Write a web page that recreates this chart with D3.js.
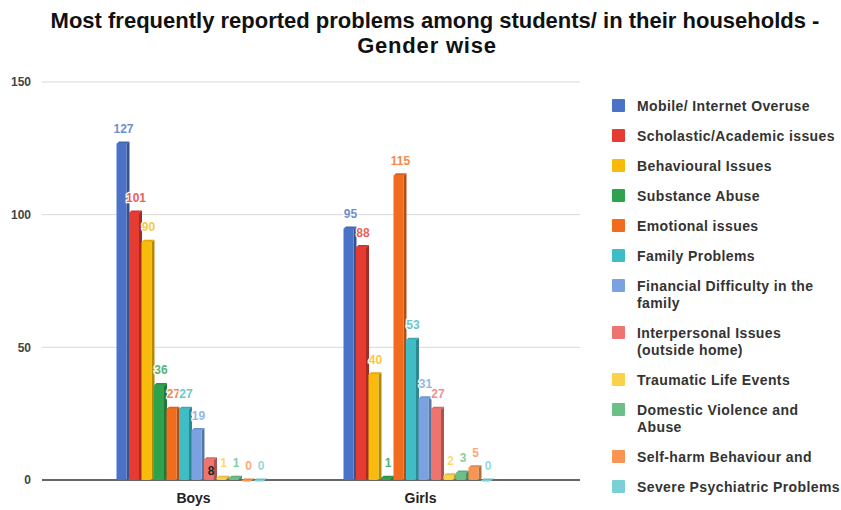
<!DOCTYPE html>
<html>
<head>
<meta charset="utf-8">
<script src="https://cdn.jsdelivr.net/npm/d3@7/dist/d3.min.js"></script>
<style>
  html, body { margin: 0; padding: 0; background: #fff; }
  svg { display: block; font-family: "Liberation Sans", Arial, sans-serif; }
</style>
</head>
<body>
<svg id="chart" width="841" height="510"></svg>
<script>
// Gender groups on the x axis
const groups = ["Boys", "Girls"];

// Problem categories (legend order); "\n" marks a legend line break
const seriesNames = [
  "Mobile/ Internet Overuse",
  "Scholastic/Academic issues",
  "Behavioural Issues",
  "Substance Abuse",
  "Emotional issues",
  "Family Problems",
  "Financial Difficulty in the\nfamily",
  "Interpersonal Issues\n(outside home)",
  "Traumatic Life Events",
  "Domestic Violence and\nAbuse",
  "Self-harm Behaviour and",
  "Severe Psychiatric Problems"
];

// Counts per category
const boysValues  = [127, 101, 90, 36, 27, 27, 19, 8, 1, 1, 0, 0];
const girlsValues = [95, 88, 40, 1, 115, 53, 31, 27, 2, 3, 5, 0];

// Axis ticks
const yTicks = [0, 50, 100, 150];

const seriesColors = [
  "#4a72c6", "#e53b30", "#f8bb0c", "#2ea24d", "#f26c1e", "#3fbcc4",
  "#7aa2e0", "#ee7470", "#fbd04a", "#6cbf86", "#f99552", "#7bd0d6"
];

const title1 = "Most frequently reported problems among students/ in their households -";
const title2 = "Gender wise";

const svg = d3.select("#chart");

// Title
svg.append("text").attr("x", 435).attr("y", 28)
  .attr("text-anchor", "middle").attr("font-size", 22).attr("font-weight", "bold")
  .attr("fill", "#111").text(title1);
svg.append("text").attr("x", 427).attr("y", 53)
  .attr("text-anchor", "middle").attr("font-size", 22).attr("font-weight", "bold")
  .attr("letter-spacing", 0.8)
  .attr("fill", "#111").text(title2);

// Scales
const y = d3.scaleLinear().domain([0, 150]).range([480, 82]);
const x0 = d3.scaleBand().domain(groups).range([78, 532]).paddingInner(0).paddingOuter(0);
const groupWidth = 150;
const x1 = d3.scaleBand().domain(d3.range(seriesNames.length)).range([0, groupWidth]);

const plotLeft = 42, plotRight = 580;

// Gridlines
const grid = svg.append("g");
yTicks.forEach(t => {
  grid.append("line")
    .attr("x1", plotLeft).attr("x2", plotRight)
    .attr("y1", y(t)).attr("y2", y(t))
    .attr("stroke", t === 0 ? "#333" : "#d9d9d9")
    .attr("stroke-width", t === 0 ? 1.3 : 1);
});

// Y axis labels
const yAxis = d3.axisLeft(y).tickValues(yTicks).tickSize(0).tickPadding(0);
const yg = svg.append("g").attr("transform", "translate(31,0)").call(yAxis);
yg.select(".domain").remove();
yg.selectAll("text").attr("font-size", 12).attr("font-weight", "bold")
  .attr("fill", "#444").attr("font-family", "Liberation Sans, Arial, sans-serif");

// X axis labels
const xAxis = d3.axisBottom(x0).tickSize(0).tickPadding(0);
const xg = svg.append("g").attr("transform", "translate(2,493)").call(xAxis);
xg.select(".domain").remove();
xg.selectAll("text").attr("font-size", 14).attr("font-weight", "bold")
  .attr("fill", "#222").attr("font-family", "Liberation Sans, Arial, sans-serif");

// Bars (front face with a darker side for depth)
const data = groups.map((g, gi) => ({
  group: g,
  values: (gi === 0 ? boysValues : girlsValues)
}));

const frontW = 10, sideW = 3;
data.forEach(d => {
  const gx = x0(d.group) + (x0.bandwidth() - groupWidth) / 2;
  const gEl = svg.append("g").attr("transform", `translate(${gx},0)`);
  d.values.forEach((v, i) => {
    const bx = x1(i);
    const top = y(v);
    const h = y(0) - top;
    const col = seriesColors[i];
    const dark = d3.color(col).darker(0.9);
    // side face
    gEl.append("path")
      .attr("d", `M${bx + frontW},${top + 1} L${bx + frontW + sideW},${top - 1.5} L${bx + frontW + sideW},${y(0) - 1.5} L${bx + frontW},${y(0)} Z`)
      .attr("fill", dark);
    // top face
    gEl.append("path")
      .attr("d", `M${bx},${top + 1} L${bx + 2.5},${top - 1.5} L${bx + frontW + sideW},${top - 1.5} L${bx + frontW},${top + 1} Z`)
      .attr("fill", d3.color(col).darker(0.3));
    // front face
    gEl.append("rect")
      .attr("x", bx).attr("y", top).attr("width", frontW).attr("height", Math.max(h, 1.5))
      .attr("rx", 1.5).attr("fill", col);

    // value label
    const inside = v === 8;
    const lab = d3.interpolateRgb(col, "#fff")(0.2);
    gEl.append("text")
      .attr("x", bx + frontW / 2 + 2)
      .attr("y", inside ? top + 16 : top - 10)
      .attr("text-anchor", "middle")
      .attr("font-size", 12).attr("font-weight", "bold")
      .attr("fill", inside ? "#222" : lab)
      .attr("stroke", inside ? "none" : "#fff").attr("stroke-width", 2.5)
      .attr("paint-order", "stroke")
      .text(v);
  });
});

// Legend
const legend = svg.append("g");
let ly = 106;
seriesNames.forEach((name, i) => {
  const lines = name.split("\n");
  legend.append("rect")
    .attr("x", 612).attr("y", ly - 7).attr("width", 13).attr("height", 13)
    .attr("rx", 1).attr("fill", seriesColors[i]);
  const t = legend.append("text")
    .attr("x", 637).attr("y", ly + 5)
    .attr("font-size", 14).attr("font-weight", "bold")
    .attr("letter-spacing", 0.4).attr("fill", "#333");
  lines.forEach((ln, k) => {
    t.append("tspan").attr("x", 637).attr("dy", k === 0 ? 0 : 17).text(ln);
  });
  ly += 30 + 17 * (lines.length - 1);
});
</script>
</body>
</html>
